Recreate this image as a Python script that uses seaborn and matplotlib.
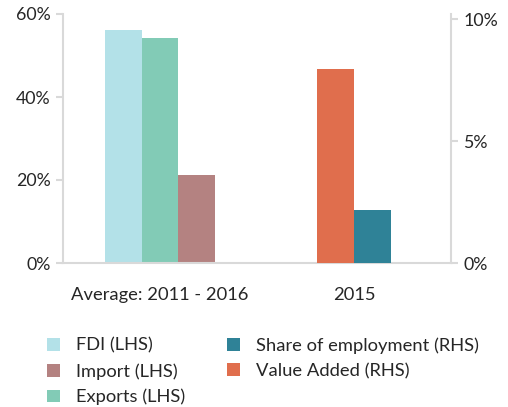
import pandas as pd
import seaborn as sns
import matplotlib.pyplot as plt
from matplotlib.ticker import FuncFormatter, FixedLocator

# DATI
categories = ["Average: 2011 - 2016", "2015"]
lhs_series = ["FDI (LHS)", "Exports (LHS)", "Import (LHS)"]
lhs_values = [56.1, 54.2, 21.3]
rhs_series = ["Value Added (RHS)", "Share of employment (RHS)"]
rhs_values = [7.95, 2.17]

colors = {
    "FDI (LHS)": "#b3e1e8",
    "Exports (LHS)": "#82cbb6",
    "Import (LHS)": "#b48281",
    "Value Added (RHS)": "#e06e4d",
    "Share of employment (RHS)": "#2f8297",
}

lhs = pd.DataFrame({"cat": categories[0], "serie": lhs_series, "val": lhs_values})
rhs = pd.DataFrame({"cat": categories[1], "serie": rhs_series, "val": rhs_values})

sns.set_style("white")
plt.rcParams["font.family"] = ["Lato", "DejaVu Sans"]
grey = "#d9d9d9"

fig = plt.figure(figsize=(5.08, 4.07), dpi=100)
ax = fig.add_axes([63 / 508, 1 - 263 / 407, 388 / 508, 249 / 407])
ax2 = ax.twinx()

sns.barplot(data=lhs, x="cat", y="val", hue="serie", order=categories,
            hue_order=lhs_series, palette=colors, width=0.57, ax=ax,
            saturation=1, linewidth=0, legend=True)
sns.barplot(data=rhs, x="cat", y="val", hue="serie", order=categories,
            hue_order=rhs_series, palette=colors, width=0.38, ax=ax2,
            saturation=1, linewidth=0, legend=True)

ax.set_xlim(-0.5, 1.5)
ax.set_ylim(0, 60)
ax2.set_ylim(0, 10 * 249 / 244)
ax.set_yticks([0, 20, 40, 60])
ax2.set_yticks([0, 5, 10])
ax.yaxis.set_major_formatter(FuncFormatter(lambda v, p: f"{v:.0f}%"))
ax2.yaxis.set_major_formatter(FuncFormatter(lambda v, p: f"{v:.0f}%"))

# tick dell'asse x come nell'originale
ax.xaxis.set_major_locator(FixedLocator([-0.5, -0.5 + 228 / 194, 1.5]))
ax.xaxis.set_major_formatter(FuncFormatter(lambda v, p: ""))
ax.xaxis.set_minor_locator(FixedLocator([0, 1]))
ax.set_xticklabels(categories, minor=True)
ax.tick_params(axis="x", which="minor", length=0, pad=17, labelsize=13.2)
ax.tick_params(axis="x", which="major", length=6, width=1.5, color=grey, direction="out")
ax.tick_params(axis="y", length=5, width=1.5, color=grey, labelsize=12.8, pad=4)
ax2.tick_params(axis="y", length=5, width=1.5, color=grey, labelsize=12.8, pad=4)

ax.set_xlabel("")
ax.set_ylabel("")
ax2.set_ylabel("")
for a in (ax, ax2):
    for s in a.spines.values():
        s.set_visible(False)
ax.spines["left"].set_visible(True)
ax.spines["bottom"].set_visible(True)
ax2.spines["right"].set_visible(True)
for s in (ax.spines["left"], ax.spines["bottom"], ax2.spines["right"]):
    s.set_color(grey)
    s.set_linewidth(1.5)

# LEGENDA
h1, l1 = ax.get_legend_handles_labels()
h2, l2 = ax2.get_legend_handles_labels()
ax.get_legend().remove()
ax2.get_legend().remove()
hmap = dict(zip(l1 + l2, h1 + h2))
order = ["FDI (LHS)", "Import (LHS)", "Exports (LHS)",
         "Share of employment (RHS)", "Value Added (RHS)"]
fig.legend([hmap[k] for k in order], order, ncol=2, frameon=False,
           loc="upper left", bbox_to_anchor=(40 / 508, 1 - 330 / 407),
           fontsize=13.2, handlelength=0.7, handleheight=0.7,
           handletextpad=0.85, columnspacing=2.3, labelspacing=0.5,
           borderaxespad=0)

plt.savefig("out.png", dpi=100)
plt.close()
